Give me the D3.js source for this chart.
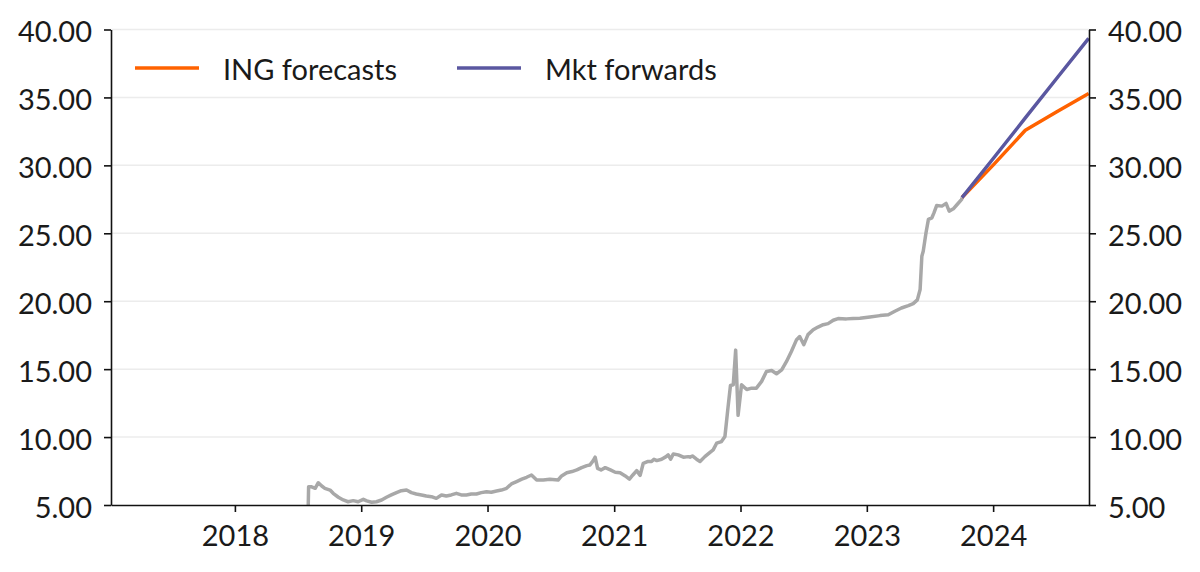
<!DOCTYPE html>
<html>
<head>
<meta charset="utf-8">
<script src="https://cdn.jsdelivr.net/npm/d3@7"></script>
<style>
  html, body { margin: 0; padding: 0; background: #fff; }
  svg text { font-family: Lato, "Open Sans", sans-serif; fill: #1a1a1a; }
</style>
</head>
<body>
<div id="chart"></div>
<script>
// spot rate, weekly-ish readings
const spotDates = [
  "2018-08-01","2018-08-02","2018-08-09","2018-08-21","2018-08-30","2018-09-09","2018-09-18","2018-10-03",
  "2018-10-12","2018-10-27","2018-11-10","2018-11-24","2018-12-09","2018-12-23",
  "2019-01-07","2019-01-17","2019-01-31","2019-02-14","2019-03-01","2019-03-15","2019-03-29","2019-04-13",
  "2019-04-27","2019-05-12","2019-05-26","2019-06-09","2019-06-24","2019-07-08","2019-07-23","2019-08-06",
  "2019-08-21","2019-09-04","2019-09-18","2019-10-03","2019-10-17","2019-11-01","2019-11-15","2019-11-30",
  "2019-12-14","2019-12-29",
  "2020-01-12","2020-01-27","2020-02-10","2020-02-25","2020-03-10","2020-03-25","2020-04-09","2020-04-23",
  "2020-05-07","2020-05-22","2020-06-10","2020-06-29","2020-07-23","2020-08-02","2020-08-17","2020-09-01",
  "2020-09-15","2020-09-29","2020-10-14","2020-10-23","2020-11-01","2020-11-07","2020-11-14","2020-11-24",
  "2020-12-06","2020-12-21",
  "2021-01-04","2021-01-18","2021-02-02","2021-02-14","2021-02-24","2021-03-07","2021-03-17","2021-03-26",
  "2021-04-07","2021-04-19","2021-04-26","2021-05-04","2021-05-18","2021-05-31","2021-06-06","2021-06-13",
  "2021-06-21","2021-07-05","2021-07-20","2021-08-03","2021-08-08","2021-08-15","2021-08-27","2021-09-06",
  "2021-09-20","2021-10-04","2021-10-14","2021-10-24","2021-11-07","2021-11-17","2021-11-26","2021-12-03",
  "2021-12-11","2021-12-18","2021-12-25",
  "2022-01-04","2022-01-19","2022-02-02","2022-02-16","2022-03-03","2022-03-17","2022-04-01","2022-04-15",
  "2022-04-30","2022-05-14","2022-05-28","2022-06-12","2022-06-21","2022-07-03","2022-07-15","2022-07-30",
  "2022-08-13","2022-08-28","2022-09-11","2022-09-26","2022-10-10","2022-11-03","2022-11-22","2022-12-12",
  "2023-01-10","2023-02-08","2023-03-04","2023-03-23","2023-04-11","2023-05-01","2023-05-15","2023-05-27",
  "2023-06-04","2023-06-09","2023-06-13","2023-06-21","2023-06-28","2023-07-08","2023-07-14","2023-07-22",
  "2023-08-06","2023-08-18","2023-08-27","2023-09-08","2023-09-19","2023-10-02","2023-10-03"
];
const spotValues = [
  5.00,6.35,6.35,6.23,6.64,6.40,6.23,6.10,
  5.86,5.57,5.37,5.24,5.32,5.24,
  5.42,5.30,5.20,5.24,5.37,5.57,5.74,5.91,
  6.05,6.10,5.91,5.81,5.74,5.66,5.61,5.49,
  5.74,5.66,5.74,5.86,5.74,5.74,5.81,5.81,
  5.91,5.98,
  5.94,6.03,6.10,6.23,6.55,6.72,6.90,7.04,
  7.21,6.84,6.84,6.90,6.84,7.14,7.38,7.46,
  7.58,7.75,7.90,7.95,8.25,8.52,7.70,7.58,
  7.75,7.58,
  7.41,7.38,7.14,6.90,7.21,7.53,7.18,8.07,
  8.20,8.20,8.37,8.27,8.37,8.56,8.69,8.37,
  8.76,8.69,8.52,8.56,8.52,8.61,8.37,8.20,
  8.56,8.86,9.06,9.55,9.67,10.04,12.20,13.80,
  13.85,16.40,11.60,
  13.85,13.50,13.60,13.60,14.10,14.83,14.90,14.66,
  14.95,15.57,16.30,17.17,17.40,16.80,17.54,17.90,
  18.10,18.27,18.35,18.60,18.72,18.70,18.72,18.74,
  18.84,18.94,19.00,19.26,19.50,19.67,19.82,20.10,
  20.86,23.31,23.68,25.04,26.02,26.14,26.50,27.05,
  27.00,27.20,26.63,26.80,27.12,27.50,27.63
];

// forecast paths
const fcDates = ["2023-10-03","2024-01-03","2024-04-03","2024-07-03","2024-10-03"];
const ingValues = [27.63, 30.07, 32.58, 33.95, 35.29];
const fwdValues = [27.63, 30.56, 33.49, 36.41, 39.34];

const yTicks = [5, 10, 15, 20, 25, 30, 35, 40];
const yearTicks = [2018, 2019, 2020, 2021, 2022, 2023, 2024];
const seriesNames = ["ING forecasts", "Mkt forwards"];
const seriesColors = ["#ff6200", "#5a57a0"];

const width = 1200, height = 572;
const margin = { top: 29.5, right: 111, bottom: 67, left: 111 };
const fontSize = 29;

const parse = d3.timeParse("%Y-%m-%d");

const x = d3.scaleTime()
    .domain([parse("2017-01-08"), parse("2024-10-04")])
    .range([margin.left, width - margin.right]);

const y = d3.scaleLinear()
    .domain([5, 40])
    .range([height - margin.bottom, margin.top]);

const svg = d3.select("#chart").append("svg")
    .attr("width", width)
    .attr("height", height)
    .attr("viewBox", [0, 0, width, height]);

svg.append("defs").append("clipPath").attr("id", "plot")
  .append("rect")
    .attr("x", margin.left)
    .attr("y", margin.top - 5)
    .attr("width", width - margin.left - margin.right + 2)
    .attr("height", height - margin.bottom - margin.top + 5);

// gridlines
svg.append("g")
  .selectAll("line")
  .data(yTicks.filter(d => d > 5))
  .join("line")
    .attr("x1", margin.left)
    .attr("x2", width - margin.right)
    .attr("y1", d => y(d))
    .attr("y2", d => y(d))
    .attr("stroke", "#ececec")
    .attr("stroke-width", 1.5);

const line = d3.line()
    .x(d => x(d[0]))
    .y(d => y(d[1]));

const spot = spotDates.map((d, i) => [parse(d), spotValues[i]]);
const ing = fcDates.map((d, i) => [parse(d), ingValues[i]]);
const fwd = fcDates.map((d, i) => [parse(d), fwdValues[i]]);

const lines = svg.append("g").attr("clip-path", "url(#plot)")
    .attr("fill", "none")
    .attr("stroke-linejoin", "round");

lines.append("path").attr("d", line(spot)).attr("stroke", "#a8a8a8").attr("stroke-width", 3.5);
lines.append("path").attr("d", line(ing)).attr("stroke", seriesColors[0]).attr("stroke-width", 3.5);
lines.append("path").attr("d", line(fwd)).attr("stroke", seriesColors[1]).attr("stroke-width", 3.5);

// axes
const fmt = d3.format(".2f");

const yl = svg.append("g")
    .attr("transform", `translate(${margin.left},0)`)
    .call(d3.axisLeft(y).tickValues(yTicks).tickFormat(fmt).tickSize(7).tickPadding(12).tickSizeOuter(0));

const yr = svg.append("g")
    .attr("transform", `translate(${width - margin.right},0)`)
    .call(d3.axisRight(y).tickValues(yTicks).tickFormat(fmt).tickSize(7).tickPadding(12).tickSizeOuter(0));

const xa = svg.append("g")
    .attr("transform", `translate(0,${height - margin.bottom})`)
    .call(d3.axisBottom(x)
      .tickValues(yearTicks.map(yv => new Date(yv, 0, 1)))
      .tickFormat(d3.timeFormat("%Y"))
      .tickSize(7).tickPadding(13).tickSizeOuter(0));

[yl, yr, xa].forEach(g => {
  g.selectAll(".domain, .tick line").attr("stroke", "#111").attr("stroke-width", 1.6);
  g.selectAll("text").attr("font-size", fontSize).attr("fill", "#1a1a1a");
});
yl.selectAll("text").attr("dy", "0.42em");
yr.selectAll("text").attr("dy", "0.42em");

// legend
const legendX = [135, 457];
const legend = svg.append("g")
  .selectAll("g")
  .data(seriesNames)
  .join("g")
    .attr("transform", (d, i) => `translate(${legendX[i]},68)`);

legend.append("line")
    .attr("x1", 0).attr("x2", 64)
    .attr("stroke", (d, i) => seriesColors[i])
    .attr("stroke-width", 3.5);

legend.append("text")
    .attr("x", 88)
    .attr("y", 12)
    .attr("font-size", fontSize)
    .text(d => d);
</script>
</body>
</html>
